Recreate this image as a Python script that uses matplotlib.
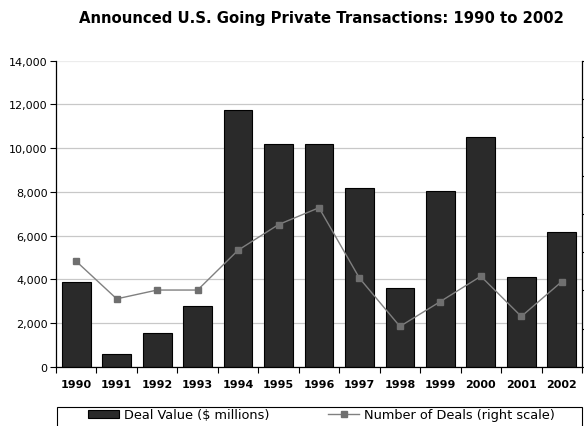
import matplotlib
matplotlib.use("Agg")
import matplotlib.pyplot as plt
import numpy as np
from matplotlib.patches import Rectangle
from matplotlib.ticker import FuncFormatter, FixedLocator

years = ["1990", "1991", "1992", "1993", "1994", "1995", "1996",
         "1997", "1998", "1999", "2000", "2001", "2002"]
deal_value = [3870, 580, 1550, 2770, 11750, 10180, 10180,
              8190, 3610, 8040, 10530, 4120, 6180]
num_deals = [27.6, 17.8, 20.1, 20.1, 30.5, 37.2, 41.6,
             23.2, 10.6, 17.1, 23.7, 13.2, 22.3]

W, H = 584, 427
fig = plt.figure(figsize=(W / 100, H / 100), dpi=100)
ax = fig.add_axes([56 / W, 1 - 368 / H, 526 / W, 306.3 / H])

x = np.arange(len(years))
bars = ax.bar(x, deal_value, width=0.71, color="#2a2a2a", edgecolor="black",
              linewidth=0.8, zorder=2, label="Deal Value ($ millions)")

ax.set_xlim(-0.5, len(years) - 0.5)
ax.set_ylim(0, 14000)
ax.set_yticks(np.arange(0, 14001, 2000))
ax.yaxis.set_major_formatter(FuncFormatter(lambda v, p: f"{int(v):,}"))
ax.grid(axis="y", color="#c8c8c8", linewidth=0.9, zorder=0)
ax.set_axisbelow(True)
ax.get_ygridlines()[-1].set_color("#ececec")

ax.set_xticks(x)
ax.set_xticklabels(years, fontweight="bold", fontsize=8)
ax.xaxis.set_minor_locator(FixedLocator(np.arange(-0.5, len(years), 1)))
ax.tick_params(axis="x", which="major", length=0, pad=9)
ax.tick_params(axis="x", which="minor", length=4, width=0.8, direction="out")
ax.tick_params(axis="y", length=4, width=0.8, labelsize=8, pad=2)

for s in ["top", "right"]:
    ax.spines[s].set_visible(False)
ax.spines["left"].set_linewidth(0.9)
ax.spines["bottom"].set_linewidth(0.9)

ax2 = ax.twinx()
ax2.set_ylim(0, 80)
ax2.set_yticks(np.arange(0, 81, 10))
ax2.set_yticklabels([])
ax2.tick_params(axis="y", length=6, width=0.8)
for s in ["top", "left", "bottom"]:
    ax2.spines[s].set_visible(False)
ax2.spines["right"].set_linewidth(0.9)
line, = ax2.plot(x, num_deals, color="#808080", linewidth=1.0, marker="s",
                 markersize=4.5, markerfacecolor="#6f6f6f",
                 markeredgecolor="#6f6f6f", zorder=3,
                 label="Number of Deals (right scale)")

fig.text(321.5 / W, 1 - 18 / H, "Announced U.S. Going Private Transactions: 1990 to 2002",
         ha="center", va="center", fontsize=10.7, fontweight="bold")

# legend box runs off the bottom of the picture, as in the original
fig.patches.append(Rectangle((57 / W, 1 - 432 / H), 524.5 / W, 24 / H,
                             transform=fig.transFigure, fill=False,
                             edgecolor="black", linewidth=0.8, clip_on=False))
leg_kw = dict(loc="upper left", frameon=False, fontsize=9.3, borderpad=0,
              borderaxespad=0, handlelength=2.4, handleheight=0.6,
              handletextpad=0.4)
fig.legend(handles=[bars], bbox_to_anchor=(88 / W, 1 - 409.5 / H), **leg_kw)
fig.legend(handles=[line], bbox_to_anchor=(328 / W, 1 - 409.5 / H), **leg_kw)

fig.savefig("out.png", dpi=100)
